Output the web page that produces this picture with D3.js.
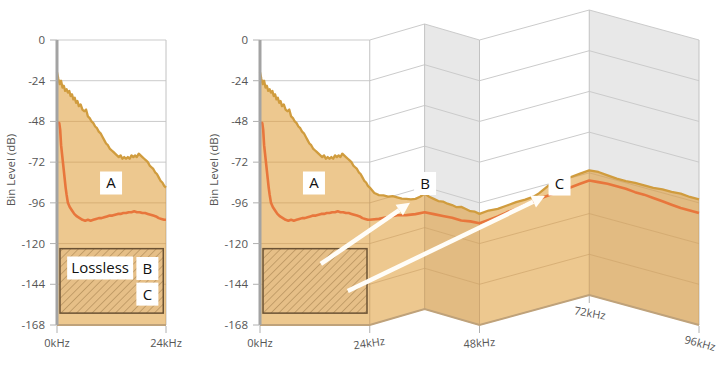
<!DOCTYPE html>
<html><head><meta charset="utf-8">
<script src="https://cdn.jsdelivr.net/npm/d3@7"></script>
<style>body{margin:0;background:#fff;} svg{display:block;font-family:"Open Sans",sans-serif;}</style>
</head><body><svg id="c" width="719" height="367"></svg>
<script>
// ---------- data ----------
const levelTicks = [0,-24,-48,-72,-96,-120,-144,-168];
const leftFreqTicks = [0,24];
const rightFreqTicks = [0,24,48,72,96];
const freqTickLabels = {0:"0kHz",24:"24kHz",48:"48kHz",72:"72kHz",96:"96kHz"};
const foldFreqs = [24,36,48,72,96];
const axisTitle = "Bin Level (dB)";
// upper (gold) spectrum [kHz, dB]
const upperBin = [[0,-19],[0.3,-23],[0.6,-26],[0.9,-24],[1.2,-28],[1.5,-27],[1.8,-30],[2.1,-29],[2.4,-31],[2.7,-30],[3.0,-33],[3.3,-32],[3.6,-35],[3.9,-34],[4.2,-37],[4.5,-36],[4.8,-39],[5.2,-38],[5.6,-41],[6.0,-42],[6.4,-41],[6.8,-45],[7.2,-46],[7.6,-48],[8.0,-49],[8.4,-51],[8.8,-52],[9.2,-54],[9.6,-55],[10.0,-57],[10.4,-59],[10.8,-61],[11.2,-62],[11.6,-64],[12.0,-65],[12.4,-66],[12.8,-67],[13.2,-68],[13.6,-69],[14.0,-68],[14.4,-70],[14.8,-69],[15.2,-70],[15.6,-69],[16.0,-70],[16.4,-68],[16.8,-69],[17.2,-68],[17.6,-69],[18.0,-67],[18.4,-68],[18.8,-69],[19.2,-70],[19.6,-71],[20.0,-72],[20.4,-74],[20.8,-75],[21.2,-76],[21.6,-78],[22.0,-79],[22.4,-81],[22.8,-83],[23.2,-84],[23.6,-86],[24.0,-87],
[24.5,-89],[25,-91],[25.5,-92],[26,-93],[27,-94],[28,-95.5],[29,-96],[30,-97.5],[31,-99],[32,-100],[33,-101],[34,-101.5],[35,-101],[36,-100],[37,-101],[38,-101.5],[39,-102],[40,-101.5],[41,-102],[42,-102],[43,-102.5],[44,-101.5],[45,-102],[46,-102.5],[47,-102],[48,-102.5],[50,-102],[52,-102.5],[54,-102],[56,-101.5],[58,-101.5],[60,-101],[61,-100],[62,-98.5],[63,-97],[64,-96.5],[66,-96],[68,-95.5],[70,-95],[72,-94.5],[74,-94],[76,-94.5],[78,-95],[80,-95],[82,-94.5],[84,-94.5],[86,-94.5],[88,-94],[90,-94],[92,-93.5],[94,-94],[96,-94]];
// lower (orange) spectrum [kHz, dB]
const lowerBin = [[0.2,-48.5],[0.5,-49],[0.7,-53],[0.9,-62],[1.1,-67],[1.3,-72],[1.5,-77],[1.7,-82],[1.9,-87],[2.1,-91],[2.4,-96],[2.8,-98.5],[3.3,-100.5],[3.8,-102.5],[4.4,-104],[5.0,-105],[5.6,-106],[6.2,-106.5],[6.8,-106],[7.4,-106.5],[8.0,-106],[8.6,-105.5],[9.2,-105],[9.8,-105],[10.4,-104.5],[11.0,-104],[11.6,-103.5],[12.2,-103.5],[12.8,-103],[13.4,-102.5],[14.0,-102.5],[14.6,-102],[15.2,-102],[15.8,-101.5],[16.4,-101.5],[17.0,-101],[17.6,-101.5],[18.2,-101.5],[18.8,-102],[19.4,-102],[20.0,-102.5],[20.6,-103],[21.2,-103.5],[21.8,-104],[22.4,-105],[23.0,-105.5],[23.6,-106],[24.0,-106],[26,-107],[28,-107.5],[30,-108],[32,-109.5],[34,-110.5],[36,-111],[38,-110.5],[40,-110],[42,-109.5],[44,-109.5],[46,-108.5],[48,-108],[50,-107.5],[52,-107],[54,-106],[56,-105.5],[58,-104.5],[60,-104],[62,-103],[64,-102.5],[66,-102],[68,-101.5],[70,-101],[72,-100.5],[74,-100],[76,-99.5],[78,-99.5],[80,-99.5],[82,-100],[84,-100],[86,-100.5],[88,-101],[90,-101.5],[92,-102],[94,-102],[96,-102]];
// hatched "lossless" region [f0, f1, dbTop, dbBottom]
const losslessRegion = [0.66, 23.4, -123, -161];
// annotation labels [text, kHz, dB]
const leftLabels = [["A",11.9,-84.3],["Lossless",9.5,-134.4],["B",19.9,-134.7],["C",19.9,-149.8]];
const rightLabels = [["A",11.8,-84.3],["B",36.1,-84.6],["C",65.5,-84.9]];
// arrows [fromKHz, fromDb, toKHz, toDb]
const rightArrows = [[13.3,-132,32.8,-95.9],[19.2,-148,62.3,-92]];

// ---------- drawing ----------
const svg = d3.select("#c");
const y = d3.scaleLinear().domain([0,-168]).range([40,325]);
const xL = d3.scaleLinear().domain([0,24]).range([57,166]);
const xR = d3.scaleLinear().domain([0,96]).range([260,699]);
const shear3D = d3.scaleLinear().domain([0,24,36,48,72,96]).range([0,0,-16,0,-30,0]);
const flat = () => 0;

const defs = svg.append("defs");
const pat = defs.append("pattern").attr("id","hatch").attr("patternUnits","userSpaceOnUse")
  .attr("width",5.5).attr("height",5.5).attr("patternTransform","rotate(45)");
pat.append("rect").attr("width",5.5).attr("height",5.5).attr("fill","#e6bf87");
pat.append("line").attr("x1",0).attr("y1",0).attr("x2",0).attr("y2",5.5).attr("stroke","#a7824f").attr("stroke-width",1.1);

let clipId = 0;
function chart(x, fMax, sh, freqTicks, tickRot, labels, arrows) {
  const g = svg.append("g");
  const P = (f,db) => [x(f), y(db)+sh(f)];
  const verts = [0, ...foldFreqs.filter(f=>f<=fMax)];
  const panelDark = [false,false,true,false,true];
  const line = d3.line();
  const upper = upperBin.filter(d=>d[0]<=fMax);
  const lower = lowerBin.filter(d=>d[0]<=fMax);

  for (let i=0;i<verts.length-1;i++){
    const a=verts[i], b=verts[i+1];
    g.append("path").attr("d", line([P(a,0),P(b,0),P(b,-168),P(a,-168)])+"Z")
      .attr("fill", panelDark[i] ? "#e8e8e8" : "#ffffff");
  }
  const gridG = g.append("g");
  levelTicks.forEach(L=>{
    gridG.append("path").attr("d", line(verts.map(f=>P(f,L)))).attr("fill","none")
      .attr("stroke","#cbcbcb").attr("stroke-width",1);
  });
  verts.slice(1).forEach(f=>{
    gridG.append("path").attr("d", line([P(f,0),P(f,-168)])).attr("stroke","#c2c2c2").attr("stroke-width",1);
  });
  const fillPaths = [];
  for (let i=0;i<verts.length-1;i++){
    const a=verts[i], b=verts[i+1];
    const seg = upper.filter(d=>d[0]>=a && d[0]<=b).map(d=>P(d[0],d[1]));
    const d = line([...seg, P(b,-168), P(a,-168)])+"Z";
    fillPaths.push(d);
    g.append("path").attr("d", d).attr("fill", panelDark[i] ? "#e2bb82" : "#edc88f");
  }
  const cid = "clip"+(clipId++);
  const cp = defs.append("clipPath").attr("id",cid);
  fillPaths.forEach(d=>cp.append("path").attr("d",d));
  const tg = g.append("g").attr("clip-path",`url(#${cid})`);
  levelTicks.forEach(L=>{
    tg.append("path").attr("d", line(verts.map(f=>P(f,L)))).attr("fill","none")
      .attr("stroke","#cfa56c").attr("stroke-opacity",0.7).attr("stroke-width",1);
  });
  verts.slice(1).forEach(f=>{
    tg.append("path").attr("d", line([P(f,0),P(f,-168)])).attr("stroke","#c9a068").attr("stroke-opacity",0.8).attr("stroke-width",1);
  });
  g.append("path").attr("d", line(verts.map(f=>P(f,-168)))).attr("fill","none")
    .attr("stroke","#bfa27a").attr("stroke-width",2);

  const [h0,h1,hT,hB] = losslessRegion;
  g.append("rect").attr("x",x(h0)).attr("y",y(hT)).attr("width",x(h1)-x(h0)).attr("height",y(hB)-y(hT))
    .attr("fill","url(#hatch)").attr("stroke","#6b5234").attr("stroke-width",1.5);

  g.append("path").attr("d", line(lower.map(d=>P(d[0],d[1])))).attr("fill","none")
    .attr("stroke","#e8763c").attr("stroke-width",2.6).attr("stroke-linejoin","round");
  g.append("path").attr("d", line(upper.map(d=>P(d[0],d[1])))).attr("fill","none")
    .attr("stroke","#d09c3e").attr("stroke-width",2.3).attr("stroke-linejoin","round");

  g.append("line").attr("x1",x(0)).attr("x2",x(0)).attr("y1",y(0)).attr("y2",y(-168))
    .attr("stroke","#a3a3a3").attr("stroke-width",3);
  levelTicks.forEach(L=>{
    g.append("line").attr("x1",x(0)-7).attr("x2",x(0)).attr("y1",y(L)).attr("y2",y(L))
      .attr("stroke","#b0b0b0").attr("stroke-width",1);
    g.append("text").attr("x",x(0)-12).attr("y",y(L)).attr("dy","0.35em").attr("text-anchor","end")
      .attr("font-size",11.5).attr("fill","#555").text(L);
  });
  g.append("text").attr("transform",`translate(${x(0)-42},170) rotate(-90)`).attr("text-anchor","middle")
    .attr("font-size",11.5).attr("fill","#555").text(axisTitle);

  freqTicks.forEach((f,i)=>{
    const [px,py] = P(f,-168);
    g.append("line").attr("x1",px).attr("x2",px).attr("y1",py+1).attr("y2",py+8)
      .attr("stroke","#b0b0b0").attr("stroke-width",1);
    g.append("text").attr("transform",`translate(${px},${py+22}) rotate(${tickRot[i]})`)
      .attr("text-anchor","middle").attr("font-size",11).attr("fill","#555").text(freqTickLabels[f]);
  });

  arrows.forEach(([f0,d0,f1,d1])=>{
    const x0=x(f0), y0=y(d0), x1=x(f1), y1=y(d1);
    const ang = Math.atan2(y1-y0, x1-x0), hl=13, hw=6.5;
    const bx = x1 - hl*Math.cos(ang), by = y1 - hl*Math.sin(ang);
    g.append("line").attr("x1",x0).attr("y1",y0).attr("x2",bx).attr("y2",by)
      .attr("stroke","#fffdf8").attr("stroke-width",4.5);
    g.append("path").attr("d", line([[x1,y1],[bx - hw*Math.sin(ang), by + hw*Math.cos(ang)],[bx + hw*Math.sin(ang), by - hw*Math.cos(ang)]])+"Z")
      .attr("fill","#fffdf8");
  });

  labels.forEach(([t,f,db])=>{
    const cx = x(f), cy = y(db);
    const w = t.length>1 ? 66 : 22, h = 23;
    g.append("rect").attr("x",cx-w/2).attr("y",cy-h/2).attr("width",w).attr("height",h).attr("fill","#fff");
    g.append("text").attr("x",cx).attr("y",cy).attr("dy","0.36em").attr("text-anchor","middle")
      .attr("font-size",15).attr("fill","#111").text(t);
  });
}

chart(xL, 24, flat, leftFreqTicks, [0,0], leftLabels, []);
chart(xR, 96, shear3D, rightFreqTicks, [0,-8,-4,10,15], rightLabels, rightArrows);
</script></body></html>
